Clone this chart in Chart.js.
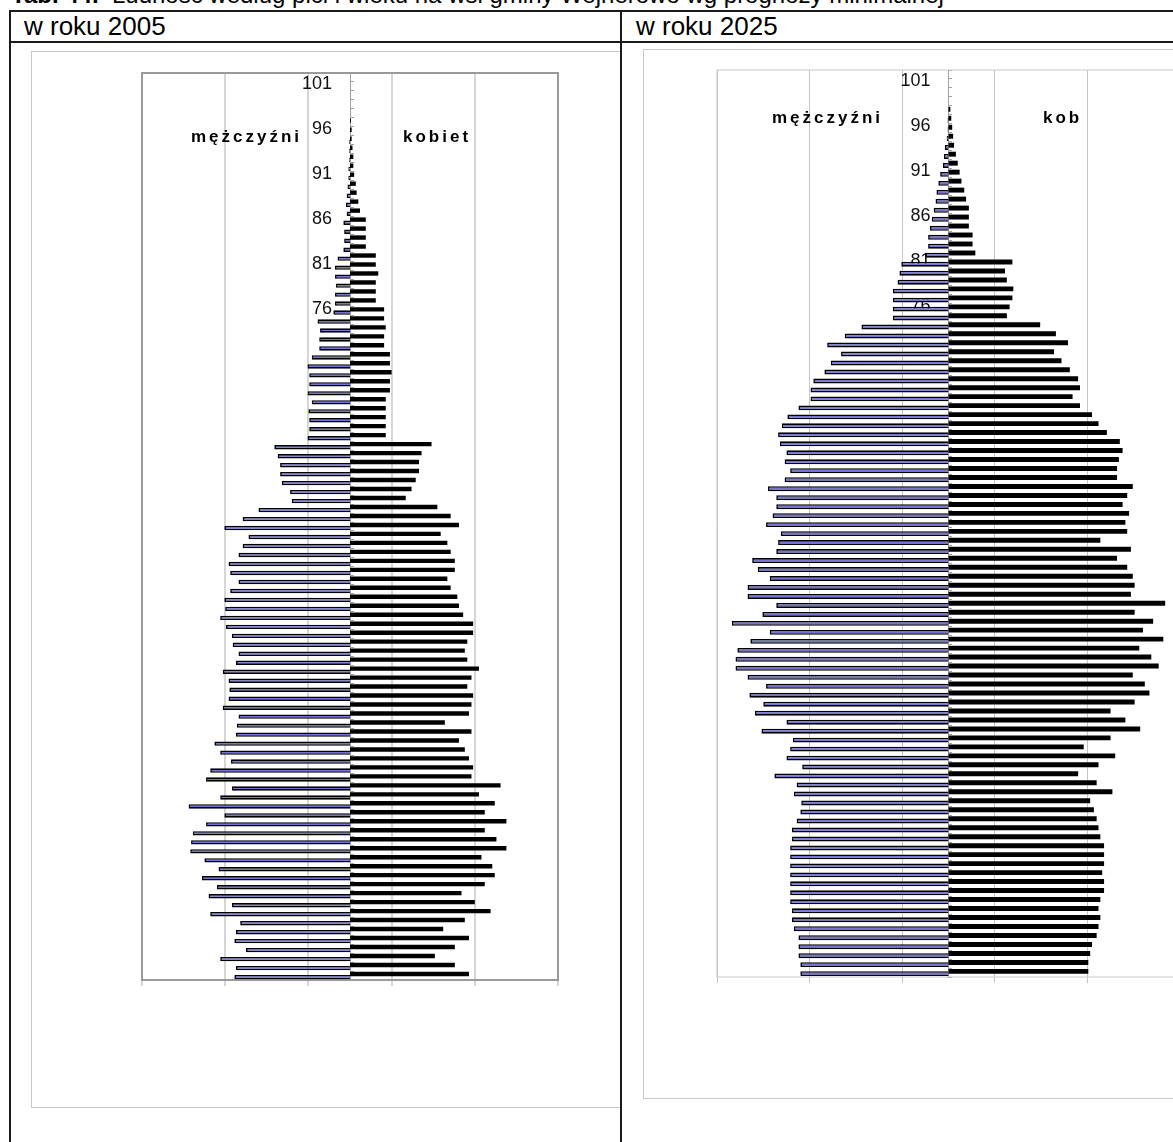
<!DOCTYPE html>
<html lang="pl">
<head>
<meta charset="utf-8">
<title>Tab. 44. Ludność według płci i wieku</title>
<script src="https://cdn.jsdelivr.net/npm/chart.js@4.4.1/dist/chart.umd.min.js"></script>
<style>
  html, body { margin: 0; padding: 0; background: #fff; overflow: hidden; }
  #page { position: relative; width: 1173px; height: 1142px; overflow: hidden; font-family: "Liberation Sans", Arial, sans-serif; color: #000; }
  .title { position: absolute; left: 11px; top: -17px; font-size: 24px; line-height: 24px; white-space: nowrap; }
  .head { position: absolute; top: 13px; font-size: 26px; line-height: 26px; white-space: nowrap; }
  .line { position: absolute; background: #1a1a1a; }
  .cell { position: absolute; top: 0; height: 1142px; overflow: hidden; }
  .frame { position: absolute; width: 800px; box-sizing: border-box; border: 1px solid #c8c8c8; border-right: none; }
  .cell canvas { position: absolute; }
  .side { position: absolute; font-weight: bold; font-size: 17px; line-height: 17px; letter-spacing: 3px; white-space: nowrap; color: #000; }
</style>
</head>
<body>
<div id="page">
  <div class="title"><b>Tab. 44.</b>&nbsp; Ludność według płci i wieku na wsi gminy Wejherowo wg prognozy minimalnej</div>

  <div class="cell" style="left:0; width:620px;">
    <div class="frame" style="left:31px; top:51px; height:1057px;"></div>
    <canvas id="pyramid-2005" width="600" height="1056" style="left:32px; top:52px;"></canvas>
    <span class="side" style="left:191px; top:128px;">mężczyźni</span>
    <span class="side" style="left:403px; top:128px;">kobiet</span>
  </div>

  <div class="cell" style="left:622px; width:551px;">
    <div class="frame" style="left:21px; top:49px; height:1050px;"></div>
    <canvas id="pyramid-2025" width="600" height="1048" style="left:21px; top:50px;"></canvas>
    <span class="side" style="left:150px; top:109px;">mężczyźni</span>
    <span class="side" style="left:421px; top:109px;">kob</span>
  </div>

  <div class="head" style="left:24px;">w roku 2005</div>
  <div class="head" style="left:636px;">w roku 2025</div>

  <div class="line" style="left:9px; top:10px; width:1164px; height:2px;"></div>
  <div class="line" style="left:9px; top:41px; width:1164px; height:2px;"></div>
  <div class="line" style="left:9px; top:10px; width:2px; height:1132px;"></div>
  <div class="line" style="left:620px; top:10px; width:2px; height:1132px;"></div>
</div>

<script>
/* Piramidy wieku: wieś, gmina Wejherowo, prognoza minimalna. Wiek od 101 (góra) do 1 (dół). */
(function () {
  "use strict";

  var AGES = [
    101, 100, 99, 98, 97, 96, 95, 94, 93, 92,
    91, 90, 89, 88, 87, 86, 85, 84, 83, 82,
    81, 80, 79, 78, 77, 76, 75, 74, 73, 72,
    71, 70, 69, 68, 67, 66, 65, 64, 63, 62,
    61, 60, 59, 58, 57, 56, 55, 54, 53, 52,
    51, 50, 49, 48, 47, 46, 45, 44, 43, 42,
    41, 40, 39, 38, 37, 36, 35, 34, 33, 32,
    31, 30, 29, 28, 27, 26, 25, 24, 23, 22,
    21, 20, 19, 18, 17, 16, 15, 14, 13, 12,
    11, 10, 9, 8, 7, 6, 5, 4, 3, 2,
    1
  ];

  var WOMEN_2005 = [
    0, 0, 0, 0, 0, 1, 2, 2, 3, 4,
    4, 5, 7, 8, 10, 12, 19, 19, 19, 19,
    31, 31, 34, 31, 31, 31, 41, 41, 43, 41,
    41, 48, 48, 50, 48, 48, 43, 43, 43, 43,
    43, 98, 86, 83, 83, 79, 74, 67, 105, 121,
    131, 109, 117, 121, 126, 126, 117, 121, 129, 131,
    136, 148, 148, 141, 138, 141, 155, 146, 141, 148,
    146, 143, 114, 146, 131, 138, 143, 148, 146, 181,
    155, 174, 162, 188, 162, 176, 188, 158, 171, 174,
    162, 134, 150, 169, 138, 112, 143, 126, 102, 126,
    143
  ];
  var MEN_2005 = [
    0, 0, 0, 0, 0, 0, 0, 1, 1, 1,
    2, 2, 3, 4, 5, 4, 8, 7, 7, 8,
    15, 18, 18, 17, 18, 18, 20, 39, 36, 37,
    37, 46, 51, 49, 49, 51, 46, 50, 49, 49,
    51, 91, 87, 84, 84, 82, 72, 70, 110, 129,
    151, 122, 129, 134, 146, 144, 134, 144, 151, 150,
    156, 149, 142, 141, 134, 137, 153, 146, 145, 146,
    153, 134, 136, 137, 163, 156, 143, 168, 173, 142,
    156, 194, 151, 173, 189, 191, 192, 175, 158, 178,
    160, 170, 142, 168, 132, 137, 139, 125, 156, 137,
    139
  ];

  var WOMEN_2025 = [
    0, 0, 0, 0, 2, 3, 4, 5, 6, 8,
    10, 12, 14, 17, 19, 22, 22, 22, 26, 26,
    29, 69, 61, 63, 70, 69, 66, 63, 99, 116,
    129, 114, 122, 131, 140, 142, 134, 142, 155, 162,
    171, 185, 188, 184, 182, 182, 199, 193, 188, 195,
    191, 193, 164, 197, 182, 193, 199, 201, 197, 234,
    201, 221, 210, 232, 206, 219, 227, 199, 212, 217,
    201, 175, 191, 207, 175, 146, 180, 162, 140, 160,
    177, 153, 157, 160, 162, 164, 168, 168, 168, 166,
    168, 168, 164, 162, 164, 162, 160, 155, 153, 151,
    151
  ];
  var MEN_2025 = [
    0, 0, 0, 0, 0, 1, 1, 2, 4, 5,
    6, 9, 11, 13, 14, 16, 18, 20, 22, 22,
    25, 51, 53, 55, 60, 60, 60, 60, 94, 112,
    131, 116, 127, 134, 146, 149, 149, 162, 174, 180,
    184, 182, 175, 177, 171, 177, 195, 186, 186, 190,
    197, 181, 184, 186, 212, 206, 193, 217, 217, 186,
    201, 234, 193, 214, 228, 230, 230, 217, 197, 215,
    200, 209, 175, 202, 168, 171, 175, 158, 188, 164,
    167, 159, 160, 164, 169, 169, 171, 171, 171, 171,
    171, 171, 171, 169, 169, 167, 162, 162, 162, 160,
    160
  ];

  // gridlines start at the axis minimum, every 100
  var GRID_X = [-250, -150, -50, 50, 150, 250];

  var FONT = "'Liberation Sans', Arial, sans-serif";

  var plotBorder = {
    id: "plotBorder",
    beforeDatasetsDraw: function (chart, args, opts) {
      var area = chart.chartArea;
      var ctx = chart.ctx;
      ctx.save();
      ctx.strokeStyle = opts.color;
      ctx.lineWidth = opts.width;
      ctx.strokeRect(area.left, area.top, area.right - area.left, area.bottom - area.top);
      ctx.restore();
    }
  };

  function noPadding(scale) {
    scale.paddingTop = 0;
    scale.paddingBottom = 0;
    scale.paddingLeft = 0;
    scale.paddingRight = 0;
  }

  function ageTick(value) {
    var age = AGES[value];
    return age >= 76 && (age - 1) % 5 === 0 ? String(age) : "";
  }

  function draw(canvasId, women, men, look) {
    return new Chart(document.getElementById(canvasId), {
      type: "bar",
      data: {
        labels: AGES,
        datasets: [
          {
            label: "kobiety",
            data: women,
            backgroundColor: "#000",
            borderColor: "#000",
            borderWidth: 0,
            categoryPercentage: look.cat,
            barPercentage: look.bar
          },
          {
            label: "mężczyźni",
            data: men.map(function (v) { return -v; }),
            backgroundColor: "#7474d2",
            borderColor: "#000",
            borderWidth: 1.6,
            categoryPercentage: look.cat,
            barPercentage: look.bar
          }
        ]
      },
      options: {
        indexAxis: "y",
        responsive: false,
        animation: false,
        events: [],
        layout: { padding: look.padding },
        plugins: {
          legend: { display: false },
          tooltip: { enabled: false },
          plotBorder: { color: look.frame, width: look.frameWidth }
        },
        scales: {
          x: {
            type: "linear",
            min: -250,
            max: 250,
            afterBuildTicks: function (scale) {
              scale.ticks = GRID_X.map(function (v) { return { value: v }; });
            },
            afterFit: noPadding,
            ticks: { display: false },
            grid: { color: look.grid, lineWidth: look.gridWidth, drawTicks: true, tickLength: 6 },
            border: { display: false }
          },
          y: {
            type: "category",
            position: "center",
            afterFit: noPadding,
            ticks: {
              autoSkip: false,
              callback: ageTick,
              color: "#111",
              font: { family: FONT, size: 18 },
              padding: 22,
              labelOffset: 7
            },
            grid: { drawOnChartArea: false, drawTicks: true, tickLength: -4, color: "#a0a0a0" },
            border: { display: true, color: "#a0a0a0", width: 1 }
          }
        }
      },
      plugins: [plotBorder]
    });
  }

  draw("pyramid-2005", WOMEN_2005, MEN_2005, {
    padding: { left: 110, right: 74, top: 21, bottom: 122 },
    cat: 0.7, bar: 1.4,
    grid: "#d6d6d6", gridWidth: 2,
    frame: "#9a9a9a", frameWidth: 2
  });

  draw("pyramid-2025", WOMEN_2025, MEN_2025, {
    padding: { left: 74, right: 63, top: 20, bottom: 115 },
    cat: 0.5, bar: 2.2,
    grid: "#c4c4c4", gridWidth: 1,
    frame: "#c8c8c8", frameWidth: 1
  });
})();
</script>
</body>
</html>
